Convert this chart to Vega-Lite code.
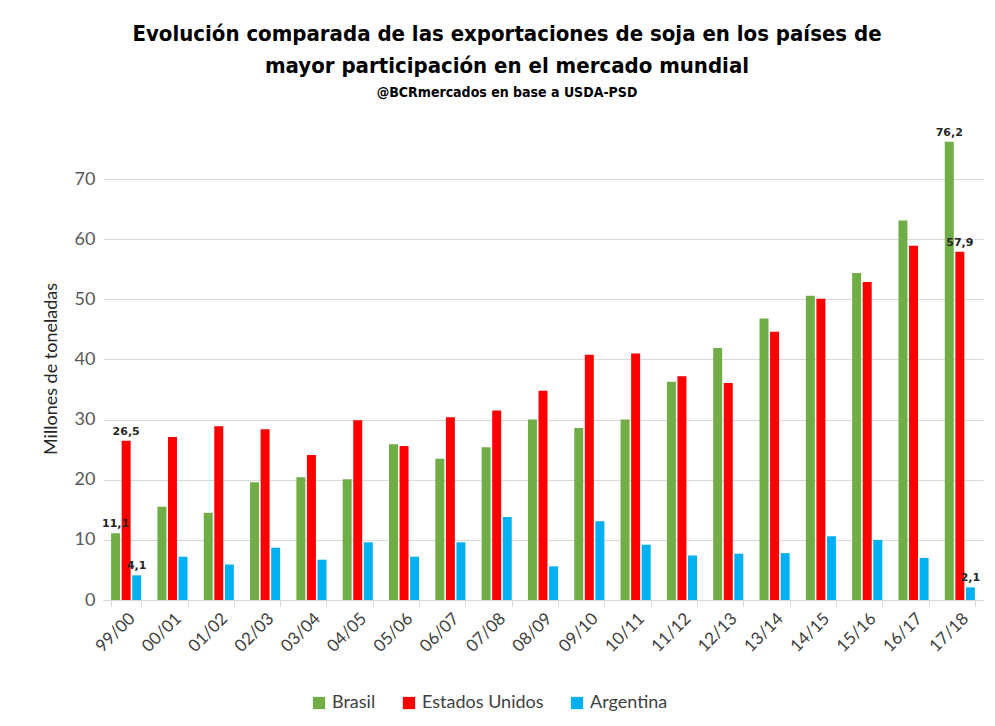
{
  "$schema": "https://vega.github.io/schema/vega-lite/v6.json",
  "width": 880,
  "height": 463,
  "autosize": "none",
  "padding": {"left": 103, "top": 137, "right": 12, "bottom": 126},
  "background": "white",
  "config": {
    "locale": {"number": {"decimal": ",", "thousands": ".", "grouping": [3], "currency": ["", ""]}},
    "view": {"stroke": null},
    "font": "Lato"
  },
  "title": {
    "text": ["Evolución comparada de las exportaciones de soja en los países de", "mayor participación en el mercado mundial"],
    "subtitle": "@BCRmercados en base a USDA-PSD",
    "font": "DejaVu Sans Condensed",
    "fontSize": 22,
    "fontWeight": "bold",
    "lineHeight": 32,
    "color": "#000000",
    "subtitleFont": "DejaVu Sans Condensed",
    "subtitleFontSize": 14,
    "subtitleFontWeight": "bold",
    "subtitleColor": "#000000",
    "subtitlePadding": 8,
    "anchor": "middle",
    "frame": "group",
    "dx": -36,
    "offset": 26
  },
  "data": {
    "values": [
      {"season": "99/00", "country": "Brasil", "value": 11.1},
      {"season": "99/00", "country": "Estados Unidos", "value": 26.5},
      {"season": "99/00", "country": "Argentina", "value": 4.1},
      {"season": "00/01", "country": "Brasil", "value": 15.5},
      {"season": "00/01", "country": "Estados Unidos", "value": 27.1},
      {"season": "00/01", "country": "Argentina", "value": 7.2},
      {"season": "01/02", "country": "Brasil", "value": 14.5},
      {"season": "01/02", "country": "Estados Unidos", "value": 28.9},
      {"season": "01/02", "country": "Argentina", "value": 5.9},
      {"season": "02/03", "country": "Brasil", "value": 19.6},
      {"season": "02/03", "country": "Estados Unidos", "value": 28.4},
      {"season": "02/03", "country": "Argentina", "value": 8.7},
      {"season": "03/04", "country": "Brasil", "value": 20.4},
      {"season": "03/04", "country": "Estados Unidos", "value": 24.1},
      {"season": "03/04", "country": "Argentina", "value": 6.7},
      {"season": "04/05", "country": "Brasil", "value": 20.1},
      {"season": "04/05", "country": "Estados Unidos", "value": 29.9},
      {"season": "04/05", "country": "Argentina", "value": 9.6},
      {"season": "05/06", "country": "Brasil", "value": 25.9},
      {"season": "05/06", "country": "Estados Unidos", "value": 25.6},
      {"season": "05/06", "country": "Argentina", "value": 7.2},
      {"season": "06/07", "country": "Brasil", "value": 23.5},
      {"season": "06/07", "country": "Estados Unidos", "value": 30.4},
      {"season": "06/07", "country": "Argentina", "value": 9.6},
      {"season": "07/08", "country": "Brasil", "value": 25.4},
      {"season": "07/08", "country": "Estados Unidos", "value": 31.5},
      {"season": "07/08", "country": "Argentina", "value": 13.8},
      {"season": "08/09", "country": "Brasil", "value": 30.0},
      {"season": "08/09", "country": "Estados Unidos", "value": 34.8},
      {"season": "08/09", "country": "Argentina", "value": 5.6},
      {"season": "09/10", "country": "Brasil", "value": 28.6},
      {"season": "09/10", "country": "Estados Unidos", "value": 40.8},
      {"season": "09/10", "country": "Argentina", "value": 13.1},
      {"season": "10/11", "country": "Brasil", "value": 30.0},
      {"season": "10/11", "country": "Estados Unidos", "value": 41.0},
      {"season": "10/11", "country": "Argentina", "value": 9.2},
      {"season": "11/12", "country": "Brasil", "value": 36.3},
      {"season": "11/12", "country": "Estados Unidos", "value": 37.2},
      {"season": "11/12", "country": "Argentina", "value": 7.4},
      {"season": "12/13", "country": "Brasil", "value": 41.9},
      {"season": "12/13", "country": "Estados Unidos", "value": 36.1},
      {"season": "12/13", "country": "Argentina", "value": 7.7},
      {"season": "13/14", "country": "Brasil", "value": 46.8},
      {"season": "13/14", "country": "Estados Unidos", "value": 44.6},
      {"season": "13/14", "country": "Argentina", "value": 7.8},
      {"season": "14/15", "country": "Brasil", "value": 50.6},
      {"season": "14/15", "country": "Estados Unidos", "value": 50.1},
      {"season": "14/15", "country": "Argentina", "value": 10.6},
      {"season": "15/16", "country": "Brasil", "value": 54.4},
      {"season": "15/16", "country": "Estados Unidos", "value": 52.9},
      {"season": "15/16", "country": "Argentina", "value": 10.0},
      {"season": "16/17", "country": "Brasil", "value": 63.1},
      {"season": "16/17", "country": "Estados Unidos", "value": 58.9},
      {"season": "16/17", "country": "Argentina", "value": 7.0},
      {"season": "17/18", "country": "Brasil", "value": 76.2},
      {"season": "17/18", "country": "Estados Unidos", "value": 57.9},
      {"season": "17/18", "country": "Argentina", "value": 2.1}
    ]
  },
  "encoding": {
    "x": {
      "field": "season",
      "type": "nominal",
      "sort": null,
      "scale": {"paddingInner": 0.35, "paddingOuter": 0.175},
      "axis": {
        "title": null,
        "labelAngle": -45,
        "labelAlign": "right",
        "labelBaseline": "top",
        "labelFontSize": 17,
        "labelColor": "#404040",
        "labelFont": "Lato",
        "labelPadding": 4,
        "tickBand": "extent",
        "tickColor": "#d9d9d9",
        "tickSize": 6,
        "domainColor": "#d9d9d9",
        "grid": false
      }
    },
    "xOffset": {
      "field": "country",
      "type": "nominal",
      "sort": ["Brasil", "Estados Unidos", "Argentina"],
      "scale": {"paddingInner": 0.15}
    },
    "y": {
      "field": "value",
      "type": "quantitative",
      "scale": {"domain": [0, 77], "nice": false},
      "axis": {
        "title": "Millones de toneladas",
        "titleFont": "Lato",
        "titleFontSize": 18,
        "titleFontWeight": "normal",
        "titleColor": "#262626",
        "titlePadding": 14,
        "values": [0, 10, 20, 30, 40, 50, 60, 70],
        "labelFontSize": 18,
        "labelColor": "#595959",
        "labelPadding": 8,
        "domain": false,
        "ticks": false,
        "gridColor": "#d9d9d9",
        "gridWidth": 1
      }
    }
  },
  "layer": [
    {
      "mark": {"type": "bar"},
      "encoding": {
        "color": {
          "field": "country",
          "type": "nominal",
          "sort": ["Brasil", "Estados Unidos", "Argentina"],
          "scale": {"domain": ["Brasil", "Estados Unidos", "Argentina"], "range": ["#70AD47", "#FF0000", "#00B0F0"]},
          "legend": {
            "title": null,
            "orient": "none",
            "legendX": 207,
            "legendY": 557,
            "direction": "horizontal",
            "symbolType": "square",
            "symbolSize": 150,
            "symbolStrokeWidth": 0,
            "labelFontSize": 18,
            "labelColor": "#404040",
            "labelFont": "Lato",
            "columnPadding": 24
          }
        }
      }
    },
    {
      "transform": [{"filter": "datum.season === '99/00' || datum.season === '17/18'"}],
      "mark": {"type": "text", "baseline": "bottom", "dy": -4, "font": "DejaVu Sans", "fontSize": 11, "fontWeight": "bold", "color": "#262626", "clip": false},
      "encoding": {
        "text": {"field": "value", "type": "quantitative", "format": ".1f"}
      }
    }
  ]
}
